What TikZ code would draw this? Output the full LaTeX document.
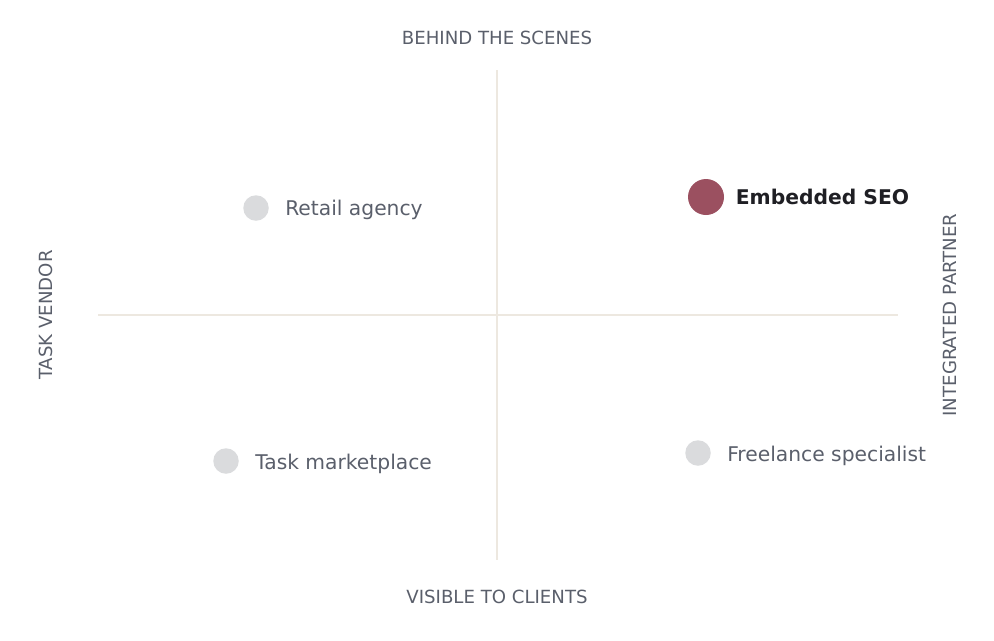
\documentclass[tikz,border=0pt]{standalone}
\usepackage{fontspec}
\setmainfont{DejaVu Sans}
\usepackage{tikz}
\usetikzlibrary{positioning}
\definecolor{axisgray}{HTML}{EDE8E0}
\definecolor{textgray}{HTML}{5A5F6B}
\definecolor{dotgray}{HTML}{DADBDD}
\definecolor{maroon}{HTML}{9B5060}
\definecolor{darktext}{HTML}{1F1F24}
\tikzset{
	dot/.style={circle, fill=dotgray, inner sep=0pt, minimum size=25.5pt*0.75},
	pick/.style={circle, fill=maroon, inner sep=0pt, minimum size=36pt*0.75},
	tag/.style={right=12pt of #1, yshift=-1.8pt, inner sep=0pt, text=textgray, font=\fontsize{15.2}{18}\selectfont},
	axislabel/.style={text=textgray, inner sep=0pt, font=\fontsize{13.6}{16}\selectfont}
}
\begin{document}
\begin{tikzpicture}[x=0.75pt, y=-0.75pt]
		\useasboundingbox (0,0) rectangle (994,640);
		\draw[axisgray, line width=1.5pt] (497,70) -- (497,560);
		\draw[axisgray, line width=1.5pt] (98,315) -- (898,315);
		\node[axislabel] (top) at (497,38) {BEHIND THE SCENES};
		\node[axislabel] (bottom) at (497,597) {VISIBLE TO CLIENTS};
		\node[axislabel, rotate=90] (left) at (46,315) {TASK VENDOR};
		\node[axislabel, rotate=90] (right) at (950,315) {INTEGRATED PARTNER};
		\node[dot] (retail) at (256,208) {};
		\node[tag=retail] (retaillabel) {Retail agency};
		\node[pick] (seo) at (706,197) {};
		\node[tag=seo, text=darktext, font=\fontsize{15.2}{18}\selectfont\bfseries, right=8.5pt of seo, yshift=1.8pt] (seolabel) {Embedded SEO};
		\node[dot] (market) at (226,461) {};
		\node[tag=market] (marketlabel) {Task marketplace};
		\node[dot] (freelance) at (698,453) {};
		\node[tag=freelance] (freelancelabel) {Freelance specialist};
	\end{tikzpicture}
\end{document}
